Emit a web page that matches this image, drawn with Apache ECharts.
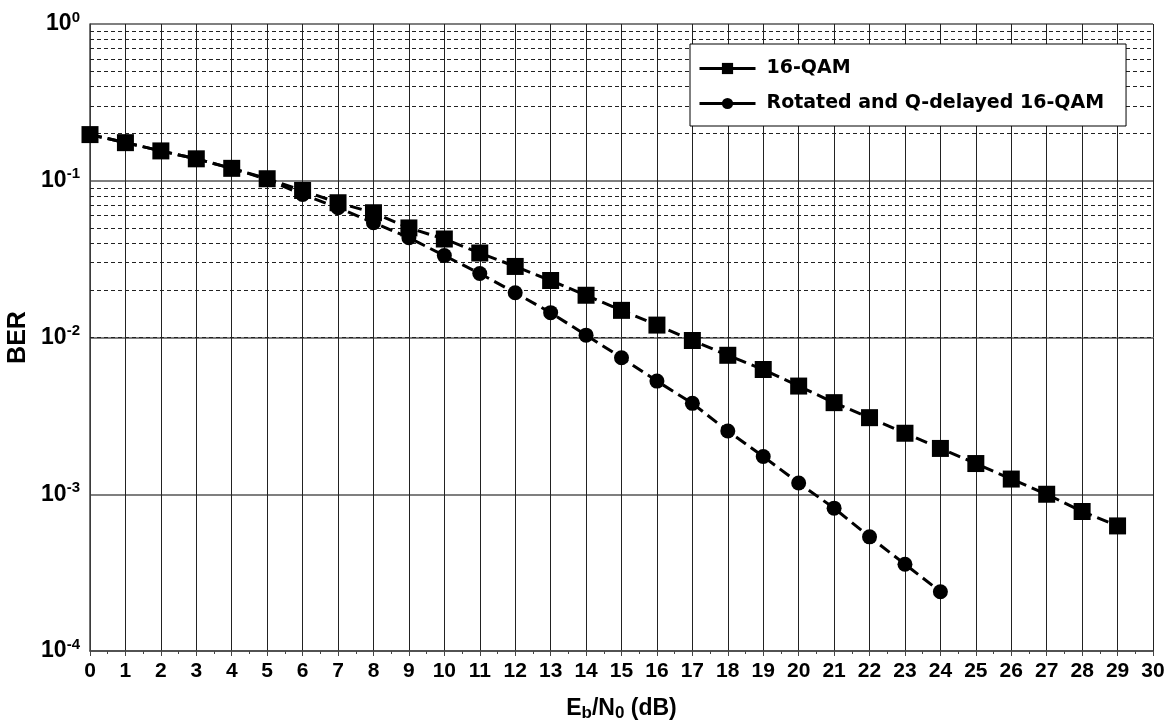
<!DOCTYPE html>
<html>
<head>
<meta charset="utf-8">
<script src="https://cdn.jsdelivr.net/npm/echarts@6/dist/echarts.min.js"></script>
<style>
  html, body { margin: 0; padding: 0; background: #fff; }
  #main { width: 1176px; height: 722px; }
</style>
</head>
<body>
<div id="main"></div>
<script>
// Eb/N0 in dB
const ebn0 = [0,1,2,3,4,5,6,7,8,9,10,11,12,13,14,15,16,17,18,19,20,21,22,23,24,25,26,27,28,29]
// BER
const berQam = [0.197,0.175,0.155,0.138,0.120,0.103,0.0867,0.0724,0.0625,0.050,0.0425,0.0346,0.0284,0.0231,0.0186,0.0149,0.0120,0.00957,0.0077,0.00625,0.0049,0.00384,0.00308,0.00245,0.00196,0.00157,0.00125,0.00100,0.000776,0.000628]
const berRot = [0.197,0.175,0.155,0.138,0.120,0.102,0.0818,0.0673,0.054,0.0433,0.0333,0.0256,0.0193,0.0144,0.01035,0.00743,0.00527,0.0038,0.00253,0.00174,0.00118,0.000815,0.000535,0.000358,0.000239]
// dashed minor grid values (2..9 per decade)
const minorGrid = []
for (let e = -4; e < 0; e++) {
  for (let m = 2; m <= 9; m++) minorGrid.push(m * Math.pow(10, e))
}
const seriesNames = ['16-QAM', 'Rotated and Q-delayed 16-QAM']

const chart = echarts.init(document.getElementById('main'))
const font = '"Liberation Sans", Arial, sans-serif'
const wide = '"DejaVu Sans", sans-serif'

const pair = (xs, ys) => ys.map((v, i) => [xs[i], v])

const option = {
  animation: false,
  textStyle: { fontFamily: font },
  grid: { left: 90, right: 23, top: 24, bottom: 71, outerBoundsMode: 'none' },
  legend: {
    data: seriesNames,
    orient: 'vertical',
    left: 690,
    top: 44,
    padding: [15, 22, 13, 8],
    itemGap: 16,
    itemWidth: 56,
    itemHeight: 14,
    backgroundColor: '#fff',
    borderColor: '#000',
    borderWidth: 1,
    borderRadius: 0,
    lineStyle: { type: 'solid', width: 3 },
    textStyle: { fontFamily: wide, fontWeight: 'bold', fontSize: 19, color: '#000', padding: [0, 0, 0, 6] }
  },
  xAxis: {
    type: 'value',
    min: 0,
    max: 30,
    interval: 1,
    name: 'E{sub|b}/N{sub|0} (dB)',
    nameLocation: 'middle',
    nameGap: 45,
    nameTextStyle: {
      fontFamily: font, fontWeight: 'bold', fontSize: 23, color: '#000',
      rich: { sub: { fontFamily: font, fontWeight: 'bold', fontSize: 17, color: '#000', verticalAlign: 'bottom', padding: [9, 0, 0, 0] } }
    },
    axisLine: { onZero: false, lineStyle: { color: '#444', width: 1.5 } },
    axisTick: { show: true, inside: false, length: 5, lineStyle: { color: '#444' } },
    minorTick: { show: true, splitNumber: 2, length: 3, lineStyle: { color: '#444' } },
    axisLabel: { fontFamily: font, fontWeight: 'bold', fontSize: 21, color: '#000', margin: 10 },
    splitLine: { show: true, lineStyle: { color: '#222', width: 1 } }
  },
  yAxis: {
    type: 'log',
    logBase: 10,
    min: 1e-4,
    max: 1,
    name: 'BER',
    nameLocation: 'middle',
    nameGap: 58,
    nameRotate: 90,
    nameTextStyle: { fontFamily: font, fontWeight: 'bold', fontSize: 25, color: '#000' },
    axisLine: { show: true, lineStyle: { color: '#444', width: 1.5 } },
    axisTick: { show: false },
    axisLabel: {
      margin: 10,
      formatter: function (v) {
        const e = Math.round(Math.log10(v))
        return '{b|10}{s|' + e + '}'
      },
      rich: {
        b: { fontFamily: font, fontWeight: 'bold', fontSize: 23, color: '#000' },
        s: { fontFamily: font, fontWeight: 'bold', fontSize: 15, color: '#000', verticalAlign: 'top', padding: [0, 0, 13, 0] }
      }
    },
    splitLine: { show: true, lineStyle: { color: '#555', width: 1.5 } }
  },
  series: [
    {
      name: seriesNames[1],
      type: 'line',
      z: 3,
      data: pair(ebn0, berRot),
      symbol: 'circle',
      symbolSize: 15,
      itemStyle: { color: '#000' },
      lineStyle: { color: '#000', width: 3, type: [12, 6] },
      markLine: {
        silent: true,
        symbol: 'none',
        z: 1,
        label: { show: false },
        lineStyle: { color: '#222', width: 1, type: [4, 3] },
        data: minorGrid.map(v => ({ yAxis: v }))
      }
    },
    {
      name: seriesNames[0],
      type: 'line',
      z: 4,
      data: pair(ebn0, berQam),
      symbol: 'rect',
      symbolSize: 17,
      itemStyle: { color: '#000' },
      lineStyle: { color: '#000', width: 3, type: [12, 6] }
    }
  ]
}
chart.setOption(option)
</script>
</body>
</html>
